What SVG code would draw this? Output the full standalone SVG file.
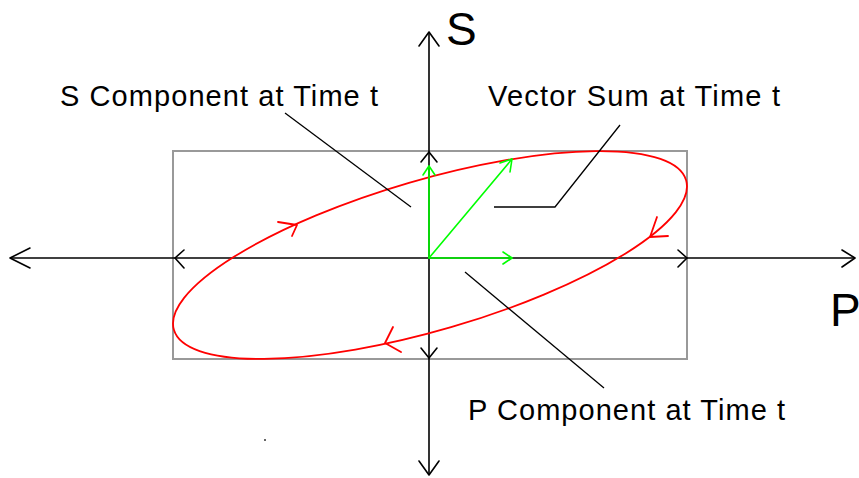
<svg xmlns="http://www.w3.org/2000/svg" width="859" height="478" viewBox="0 0 859 478">
<style>
.ax{stroke:#000;stroke-width:1.6;fill:none}
.hd{stroke:#000;stroke-width:1.6;fill:none;stroke-linecap:round;stroke-linejoin:round}
.gr{stroke:#00ff00;stroke-width:1.6;fill:none;stroke-linecap:round;stroke-linejoin:round}
.rd{stroke:#ff0000;stroke-width:1.8;fill:none;stroke-linecap:round;stroke-linejoin:round}
.ld{stroke:#000;stroke-width:1.3;fill:none}
.lb{font-family:"Liberation Sans",Arial,sans-serif;font-size:29px;fill:#000}
.big{font-family:"Liberation Sans",Arial,sans-serif;font-size:46px;fill:#000}
</style>
<rect width="859" height="478" fill="#fff"/>
<g id="box">
<rect x="173" y="151" width="514" height="208" fill="none" stroke="#999" stroke-width="2"/>
</g>
<g id="axes">
<line class="ax" x1="429" y1="32" x2="429" y2="475"/>
<line class="ax" x1="10" y1="258" x2="855" y2="258"/>
<path class="hd" d="M419,46 L429,32 L439,46"/>
<path class="hd" d="M419,461 L429,475 L439,461"/>
<path class="hd" d="M30,248 L10,258 L30,268"/>
<path class="hd" d="M842,250 L855,258 L842,267"/>
<path class="hd" d="M421,162 L429,152 L437,162"/>
<path class="hd" d="M421,348 L429,358 L437,348"/>
<path class="hd" d="M184,250 L175,258 L184,268"/>
<path class="hd" d="M678,250 L687,258 L678,267"/>
</g>
<g id="ellipse">
<ellipse cx="430" cy="255" rx="266.8" ry="75.2" transform="rotate(-16.27 430 255)" class="rd"/>
<path class="rd" d="M278,222 L297,225 L292,236"/>
<path class="rd" d="M657,217 L650,237 L668,236"/>
<path class="rd" d="M393,327 L385,343 L401,352"/>
</g>
<g id="vectors">
<line class="gr" x1="429" y1="258" x2="429" y2="166"/>
<path class="gr" d="M423,175 L429,166 L435,175"/>
<line class="gr" x1="429" y1="258" x2="512" y2="258"/>
<path class="gr" d="M503,252 L512,258 L503,264"/>
<line class="gr" x1="429" y1="258" x2="512" y2="159"/>
<path class="gr" d="M500,163 L512,159 L510,172"/>
</g>
<g id="connectors">
<line class="ld" x1="285" y1="113" x2="411" y2="207"/>
<path class="ld" d="M620,125 L555,207 L494,207"/>
<line class="ld" x1="465" y1="272" x2="604" y2="388"/>
</g>
<g id="labels">
<text class="big" x="446" y="45">S</text>
<text class="big" x="830" y="326">P</text>
<text class="lb" x="60" y="106" textLength="318" lengthAdjust="spacing">S Component at Time t</text>
<text class="lb" x="488" y="106" textLength="292" lengthAdjust="spacing">Vector Sum at Time t</text>
<text class="lb" x="468" y="420" textLength="317" lengthAdjust="spacing">P Component at Time t</text>
</g>
<circle cx="265" cy="440" r="1" fill="#333"/>
</svg>
